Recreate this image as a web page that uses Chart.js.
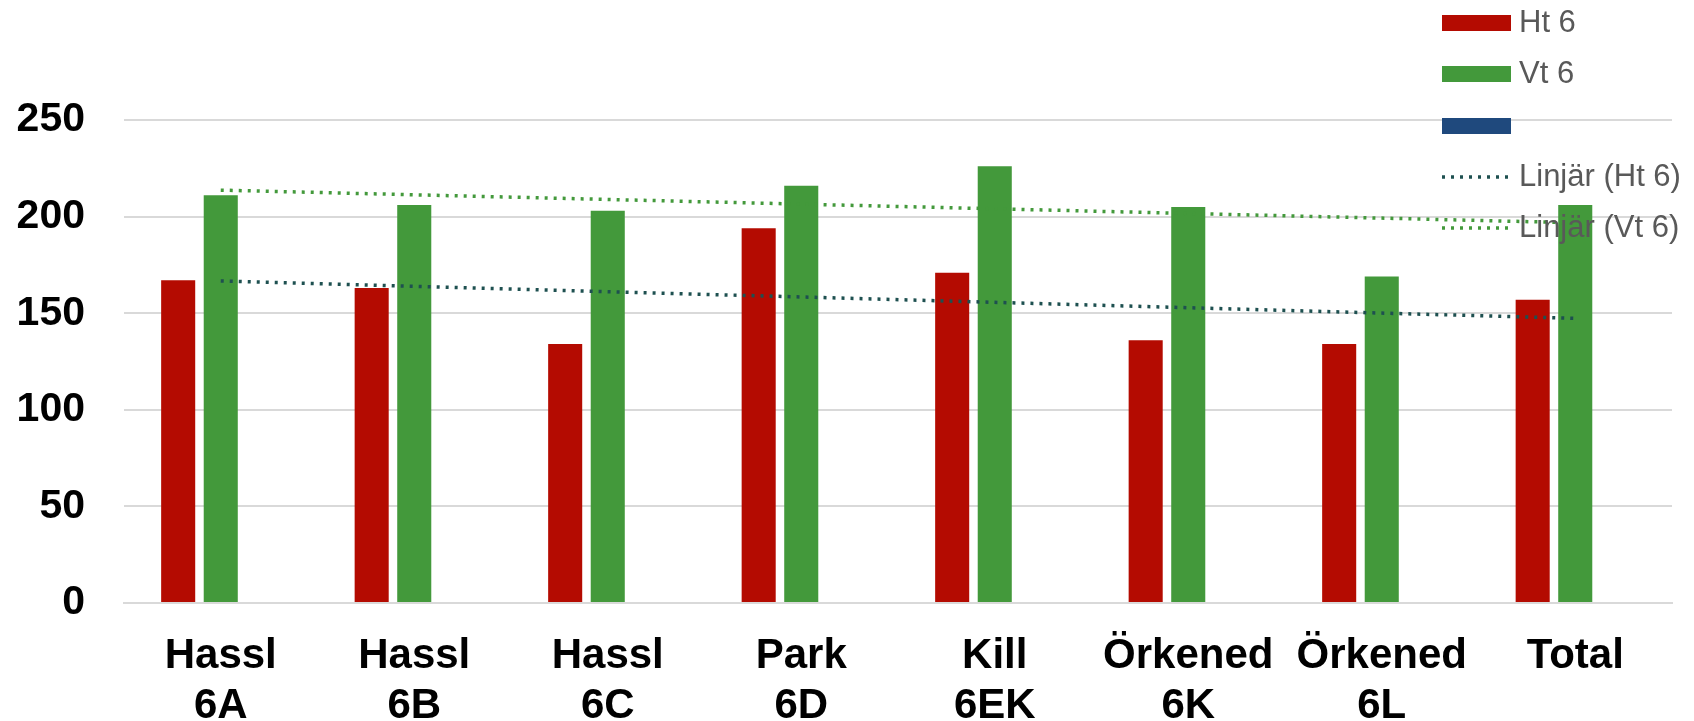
<!DOCTYPE html>
<html>
<head>
<meta charset="utf-8">
<script src="https://cdn.jsdelivr.net/npm/chart.js@4/dist/chart.umd.min.js"></script>
<style>
  body { margin: 0; background: #fff; }
  #wrap { width: 1694px; height: 721px; position: relative; }
</style>
</head>
<body>
<div id="wrap"><canvas id="chart"></canvas></div>
<script>
// categories and values
const categories = [['Hassl', '6A'], ['Hassl', '6B'], ['Hassl', '6C'], ['Park', '6D'], ['Kill', '6EK'], ['Örkened', '6K'], ['Örkened', '6L'], 'Total'];
const ht6 = [167, 163, 134, 194, 171, 136, 134, 157];
const vt6 = [211, 206, 203, 216, 226, 205, 169, 206];
const series3 = [null, null, null, null, null, null, null, null];
// trend lines: endpoints, straight line between them
const trendHt6 = [166.7, null, null, null, null, null, null, 147.3];
const trendVt6 = [213.7, null, null, null, null, null, null, 196.8];
const yMin = 0, yMax = 250, yStep = 50;

const RED = '#B40B01';
const GREEN = '#43993B';
const BLUE = '#1F497D';
const TEAL = '#1E5050';
const FONT = "'Liberation Sans', Arial, sans-serif";

// legend drawn on the canvas, overlapping the plot like the original
const sideLegend = {
  id: 'sideLegend',
  afterDraw(chart) {
    const ctx = chart.ctx;
    const boxX = 1442, boxW = 69, textX = 1519;
    const rows = [23, 74, 126, 177, 228];
    ctx.save();
    ctx.font = '31px ' + FONT;
    ctx.textBaseline = 'middle';
    chart.data.datasets.forEach((ds, i) => {
      const y = rows[i];
      if (ds.type === 'line') {
        ctx.strokeStyle = ds.borderColor;
        ctx.lineWidth = 3.5;
        ctx.setLineDash([3, 6]);
        ctx.beginPath();
        ctx.moveTo(boxX, y);
        ctx.lineTo(boxX + 66, y);
        ctx.stroke();
        ctx.setLineDash([]);
      } else {
        ctx.fillStyle = ds.backgroundColor;
        ctx.fillRect(boxX, y - 8, boxW, 16);
      }
      ctx.fillStyle = '#595959';
      ctx.fillText(ds.label, textX, y);
    });
    ctx.restore();
  }
};

new Chart(document.getElementById('chart'), {
  type: 'bar',
  data: {
    labels: categories,
    datasets: [
      {
        label: 'Ht 6',
        data: ht6,
        backgroundColor: RED,
        categoryPercentage: 0.66,
        barPercentage: 0.8,
        order: 2
      },
      {
        label: 'Vt 6',
        data: vt6,
        backgroundColor: GREEN,
        categoryPercentage: 0.66,
        barPercentage: 0.8,
        order: 2
      },
      {
        label: '',
        data: series3,
        backgroundColor: BLUE,
        categoryPercentage: 0.66,
        barPercentage: 0.8,
        order: 2
      },
      {
        type: 'line',
        label: 'Linjär (Ht 6)',
        data: trendHt6,
        borderColor: TEAL,
        borderWidth: 3.5,
        borderDash: [3, 6],
        pointRadius: 0,
        spanGaps: true,
        fill: false,
        order: 1
      },
      {
        type: 'line',
        label: 'Linjär (Vt 6)',
        data: trendVt6,
        borderColor: GREEN,
        borderWidth: 3.5,
        borderDash: [3, 6],
        pointRadius: 0,
        spanGaps: true,
        fill: false,
        order: 1
      }
    ]
  },
  options: {
    responsive: true,
    maintainAspectRatio: false,
    animation: false,
    layout: {
      padding: { left: 17, right: 22, top: 120, bottom: 0 }
    },
    plugins: {
      legend: { display: false },
      tooltip: { enabled: false }
    },
    scales: {
      x: {
        grid: { display: false },
        border: { color: '#D9D9D9', width: 2 },
        afterFit(scale) { scale.height = 118; },
        ticks: {
          color: '#000',
          padding: 20,
          maxRotation: 0,
          autoSkip: false,
          font: { family: FONT, size: 42, weight: 'bold', lineHeight: 1.2 }
        }
      },
      y: {
        min: yMin,
        max: yMax,
        grid: { color: '#D9D9D9', lineWidth: 2, drawTicks: false },
        border: { display: false },
        afterFit(scale) { scale.width = 107; },
        ticks: {
          stepSize: yStep,
          color: '#000',
          padding: 39,
          font: { family: FONT, size: 41, weight: 'bold' }
        }
      }
    }
  },
  plugins: [sideLegend]
});
</script>
</body>
</html>
